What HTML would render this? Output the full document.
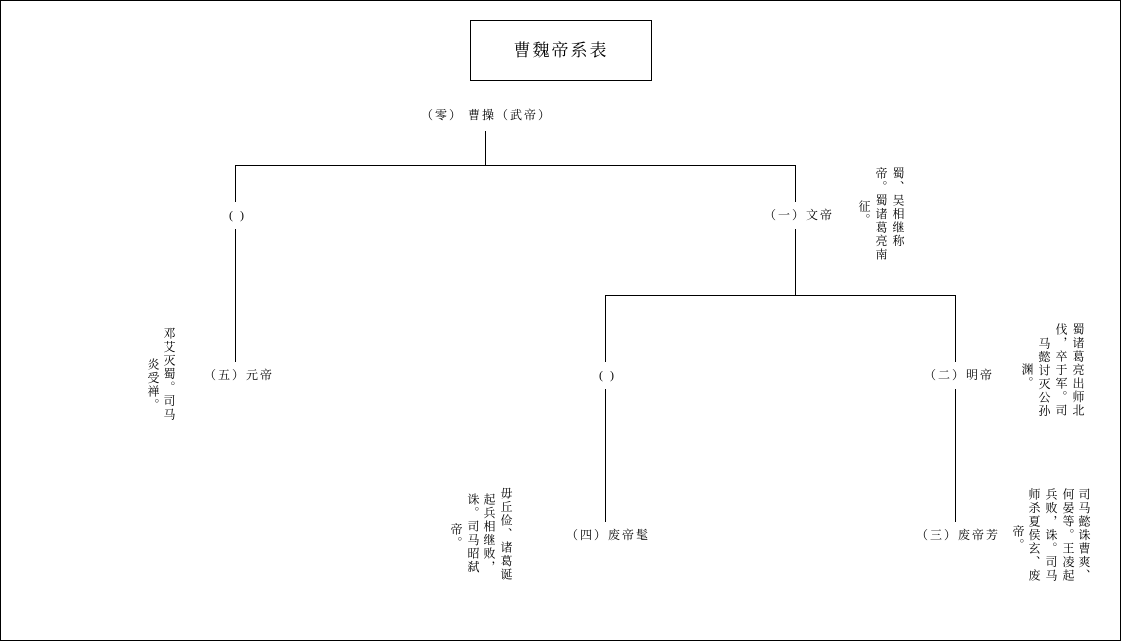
<!DOCTYPE html>
<html><head><meta charset="utf-8"><style>
html,body{margin:0;padding:0;background:#fff;}
#c{position:relative;width:1119px;height:639px;border:1px solid #000;overflow:hidden;font-family:"Liberation Serif","Noto Serif CJK SC","Noto Sans CJK SC",serif;color:#000;}
.h{position:absolute;background:#000;height:1px;}
.vl{position:absolute;background:#000;width:1px;}
.t{position:absolute;font-size:12px;line-height:14px;white-space:nowrap;letter-spacing:2px;}
.v{position:absolute;writing-mode:vertical-rl;font-size:12px;line-height:12px;letter-spacing:1.5px;white-space:nowrap;}
</style></head><body><div id="c">
<div style="position:absolute;left:469px;top:19px;width:180px;height:59px;border:1px solid #000;"></div>
<div class="t" style="left:469px;top:40px;width:182px;text-align:center;font-size:17px;line-height:20px;letter-spacing:2px;">曹魏帝系表</div>

<div class="t" style="left:420px;top:107px;">（零） 曹操（武帝）</div>
<div class="vl" style="left:484px;top:130px;height:35px;"></div>
<div class="h" style="left:234px;top:164px;width:561px;"></div>
<div class="vl" style="left:234px;top:164px;height:37px;"></div>
<div class="vl" style="left:794px;top:164px;height:37px;"></div>
<div class="t" style="left:228px;top:207px;">( )</div>
<div class="t" style="left:763px;top:207px;">（一）文帝</div>
<div class="vl" style="left:234px;top:228px;height:133px;"></div>
<div class="vl" style="left:794px;top:228px;height:67px;"></div>
<div class="h" style="left:604px;top:294px;width:351px;"></div>
<div class="vl" style="left:604px;top:294px;height:67px;"></div>
<div class="vl" style="left:954px;top:294px;height:67px;"></div>
<div class="t" style="left:203px;top:367px;">（五）元帝</div>
<div class="t" style="left:598px;top:367px;">( )</div>
<div class="t" style="left:923px;top:367px;">（二）明帝</div>
<div class="vl" style="left:604px;top:388px;height:133px;"></div>
<div class="vl" style="left:954px;top:388px;height:133px;"></div>
<div class="t" style="left:565px;top:527px;">（四）废帝髦</div>
<div class="t" style="left:915px;top:527px;">（三）废帝芳</div>

<div class="v" style="left:891px;top:166px;">蜀、吴相继称</div>
<div class="v" style="left:874px;top:166px;">帝。蜀诸葛亮南</div>
<div class="v" style="left:857px;top:199px;">征。</div>

<div class="v" style="left:162px;top:326px;">邓艾灭蜀。司马</div>
<div class="v" style="left:146px;top:357px;">炎受禅。</div>

<div class="v" style="left:1071px;top:322px;">蜀诸葛亮出师北</div>
<div class="v" style="left:1054px;top:322px;">伐，卒于军。司</div>
<div class="v" style="left:1037px;top:336px;">马懿讨灭公孙</div>
<div class="v" style="left:1020px;top:362px;">渊。</div>

<div class="v" style="left:499px;top:486px;">毋丘俭、诸葛诞</div>
<div class="v" style="left:482px;top:492px;">起兵相继败，</div>
<div class="v" style="left:466px;top:492px;">诛。司马昭弑</div>
<div class="v" style="left:449px;top:522px;">帝。</div>

<div class="v" style="left:1077px;top:487px;">司马懿诛曹爽、</div>
<div class="v" style="left:1061px;top:487px;">何晏等。王凌起</div>
<div class="v" style="left:1044px;top:487px;">兵败，诛。司马</div>
<div class="v" style="left:1027px;top:487px;">师杀夏侯玄、废</div>
<div class="v" style="left:1011px;top:524px;">帝。</div>
</div></body></html>
